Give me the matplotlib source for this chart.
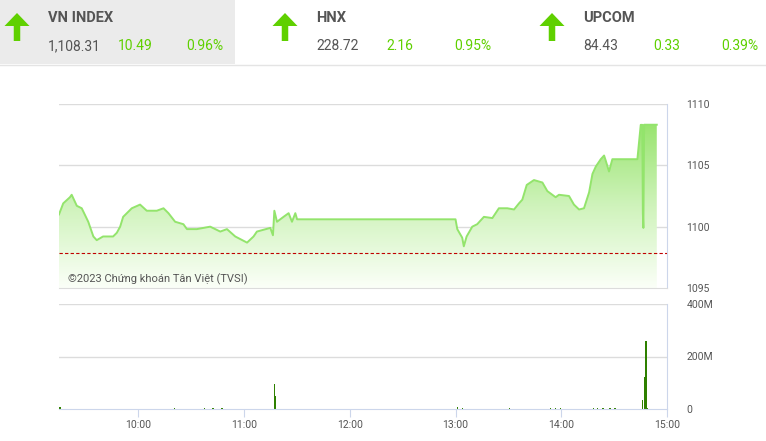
import matplotlib.pyplot as plt
import numpy as np
from matplotlib.patches import FancyArrow, Rectangle

# header quotes
names = ["VN INDEX", "HNX", "UPCOM"]
closes = ["1,108.31", "228.72", "84.43"]
changes = ["10.49", "2.16", "0.33"]
pcts = ["0.96%", "0.95%", "0.39%"]

prev_close = 1097.82

# intraday VN-Index, minutes after 09:00
t_price = [15.0, 17.4, 21.2, 22.2, 25.1, 27.9, 31.6, 34.5, 36.4, 40.0, 45.7, 47.8,
           49.7, 51.4, 56.3, 61.0, 64.8, 70.5, 74.3, 77.1, 80.9, 85.6, 87.6, 93.2,
           100.8, 106.5, 110.3, 115.0, 121.7, 125.4, 127.3, 134.9, 136.4, 137.2,
           138.7, 142.4, 145.3, 147.2, 149.1, 150.1, 240.0, 241.0, 243.8, 244.7,
           246.3, 249.5, 252.3, 256.1, 260.9, 264.6, 269.4, 273.2, 276.0, 277.9,
           280.4, 284.5, 289.3, 292.1, 296.8, 298.7, 304.4, 307.2, 310.1, 312.9,
           315.8, 317.7, 319.6, 322.4, 324.3, 325.2, 327.1, 329.0, 343.2, 345.1,
           346.0, 346.3, 346.6, 347.0, 354.2]
price = [1101.0, 1101.9, 1102.4, 1102.6, 1101.7, 1101.5, 1100.4, 1099.2, 1098.9,
         1099.2, 1099.2, 1099.5, 1100.0, 1100.8, 1101.5, 1101.8, 1101.3, 1101.3,
         1101.5, 1101.1, 1100.4, 1100.2, 1099.8, 1099.8, 1100.0, 1099.6, 1099.8,
         1099.2, 1098.7, 1099.2, 1099.6, 1099.9, 1099.3, 1101.3, 1100.4, 1100.8,
         1101.1, 1100.4, 1101.1, 1100.6, 1100.6, 1099.8, 1099.1, 1098.4, 1099.2,
         1100.0, 1100.2, 1100.8, 1100.7, 1101.5, 1101.5, 1101.4, 1101.9, 1102.2,
         1103.4, 1103.8, 1103.6, 1102.9, 1102.4, 1102.6, 1102.5, 1101.8, 1101.4,
         1101.5, 1102.8, 1104.3, 1104.9, 1105.5, 1105.8, 1105.4, 1104.5, 1105.5,
         1105.5, 1108.3, 1108.3, 1101.1, 1099.9, 1108.31, 1108.31]

# volume (millions of shares)
t_vol = [15.6, 80.5, 97.4, 102.5, 107.6, 137.3, 138.0, 241.0, 243.8, 270.7, 294.0,
         296.8, 299.7, 318.4, 320.7, 323.6, 327.6, 330.4, 346.1, 347.6, 348.2, 348.7]
volume = [8, 3, 2, 2, 2, 96, 51, 6, 2, 2, 3, 3, 2, 2, 2, 2, 2, 2, 36, 122, 260, 3]

time_ticks = [60, 120, 180, 240, 300, 360]
time_labels = ["10:00", "11:00", "12:00", "13:00", "14:00", "15:00"]

GREEN = "#5fd000"
TXT = "#555555"
GRID = "#dcdcdc"
AXC = "#ccd6eb"

plt.rcParams["font.family"] = ["Roboto", "DejaVu Sans"]

fig = plt.figure(figsize=(7.66, 4.41), dpi=100)

# header strip in pixel coords
hd = fig.add_axes([0, 0, 1, 1])
hd.set_xlim(0, 766)
hd.set_ylim(441, 0)
hd.axis("off")
hd.add_patch(Rectangle((0, 0), 235, 64, color="#ebebeb", lw=0))
hd.plot([0, 766], [64.5, 64.5], color="#e4e4e4", lw=1)
for i, x0 in enumerate([0, 268, 535]):
    hd.add_patch(FancyArrow(x0 + 17, 41, 0, -28, width=6.5, head_width=25,
                            head_length=13, length_includes_head=True,
                            color=GREEN, lw=0))
    hd.text(x0 + 48, 18, names[i], fontsize=10.5, fontweight="bold", color=TXT,
            va="center")
    hd.text(x0 + 48, 46, closes[i], fontsize=10, color=TXT, va="center")
    hd.text(x0 + 118, 46, changes[i], fontsize=10, color=GREEN, va="center")
    hd.text(x0 + 186, 46, pcts[i], fontsize=10, color=GREEN, va="center")

# price panel
ax = fig.add_axes([59 / 766, 1 - 288 / 441, 608 / 766, 184 / 441])
ax.set_xlim(15, 360)
ax.set_ylim(1095, 1110)
ax.set_yticks([1095, 1100, 1105, 1110])
for y in [1100, 1105, 1110]:
    ax.axhline(y, color=GRID, lw=1, zorder=0)
for s in ["left", "top"]:
    ax.spines[s].set_visible(False)
ax.spines["right"].set_color(AXC)
ax.spines["bottom"].set_color(GRID)
ax.yaxis.tick_right()
ax.tick_params(axis="y", length=0, pad=14, labelsize=7.5, labelcolor=TXT)
ax.set_xticks([])

poly = ax.fill_between(t_price, price, 1095, color="none", lw=0)
grad = np.linspace(0, 1, 256).reshape(-1, 1)
cmap = plt.matplotlib.colors.LinearSegmentedColormap.from_list(
    "g", ["#fbfff8", "#cff3bb", "#98e46e"])
img = ax.imshow(grad, cmap=cmap, aspect="auto", origin="lower",
                extent=[15, 360, 1095, 1108.4], zorder=1)
img.set_clip_path(poly.get_paths()[0], transform=ax.transData)
ax.set_xlim(15, 360)
ax.set_ylim(1095, 1110)
ax.plot(t_price, price, color="#93e46c", lw=1.4, zorder=2)
ax.axhline(prev_close, color="#c00000", lw=0.8, ls=(0, (3, 2)), zorder=3)
ax.text(20, 1095.45, "©2023 Chứng khoán Tân Việt (TVSI)", fontsize=8, color=TXT,
        va="baseline", zorder=4)

# volume panel
bx = fig.add_axes([59 / 766, 1 - 409 / 441, 608 / 766, 105 / 441])
bx.bar(t_vol, volume, width=0.8, color="#2e8000", zorder=2)
bx.set_xlim(15, 360)
bx.set_ylim(0, 400)
bx.set_yticks([0, 200, 400])
bx.set_yticklabels(["0", "200M", "400M"])
for y in [200, 400]:
    bx.axhline(y, color=GRID, lw=1, zorder=0)
for s in ["left", "top"]:
    bx.spines[s].set_visible(False)
bx.spines["right"].set_color(AXC)
bx.spines["bottom"].set_color(AXC)
bx.yaxis.tick_right()
bx.tick_params(axis="y", length=0, pad=14, labelsize=7.5, labelcolor=TXT)
bx.set_xticks(time_ticks)
bx.set_xticklabels(time_labels)
bx.tick_params(axis="x", length=6, color=AXC, labelsize=7.5, labelcolor=TXT, pad=2)

fig.savefig("out.png", dpi=100)
